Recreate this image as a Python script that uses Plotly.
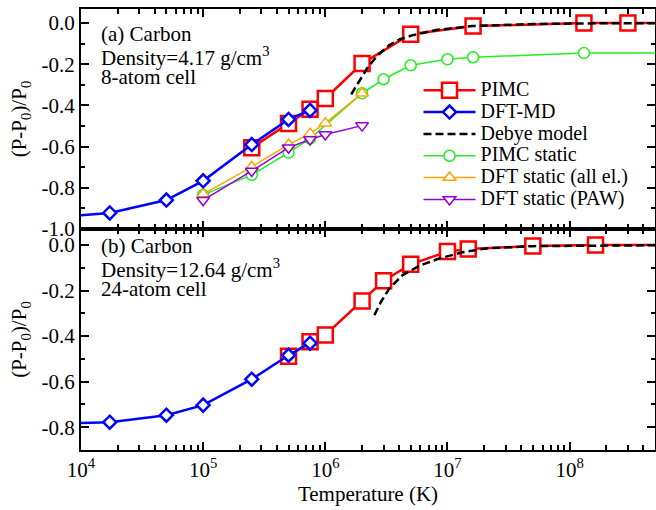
import math
import plotly.graph_objects as go
from plotly.subplots import make_subplots

# ---------------- data: panel (a) ----------------
pimc_T_a = [2.5e5, 5e5, 7.5e5, 1e6, 2e6, 5e6, 1.62e7, 1.31e8, 3.0e8, 1e9]
pimc_a = [-0.605, -0.488, -0.418, -0.366, -0.197, -0.054, -0.015, 0.0, 0.0, 0.0]

dftmd_T_a = [5e3, 1.72e4, 5e4, 1e5, 2.5e5, 5e5, 7.5e5]
dftmd_a = [-0.947, -0.922, -0.859, -0.766, -0.590, -0.468, -0.424]

debye_T_a = [1.63e6, 1.85e6, 2.22e6, 2.69e6, 3.35e6, 4.04e6, 5.19e6, 6.67e6, 8.05e6,
             1.6e7, 5e7, 1.3e8, 1e9]
debye_a = [-0.346, -0.294, -0.216, -0.156, -0.107, -0.080, -0.059, -0.045, -0.034,
           -0.015, -0.005, -0.002, 0.0]

pimcst_T_a = [1e5, 2.5e5, 5e5, 7.5e5, 2e6, 3e6, 5e6, 1e7, 1.62e7, 1.31e8, 1e9]
pimcst_a = [-0.834, -0.737, -0.629, -0.561, -0.341, -0.273, -0.205, -0.176, -0.166,
            -0.146, -0.146]

dftae_T_a = [1e5, 2.5e5, 5e5, 7.5e5, 1e6, 2e6]
dftae_a = [-0.830, -0.698, -0.590, -0.537, -0.486, -0.341]

dftpaw_T_a = [1e5, 2.5e5, 5e5, 7.5e5, 1e6, 2e6]
dftpaw_a = [-0.860, -0.718, -0.605, -0.565, -0.541, -0.498]

# ---------------- data: panel (b) ----------------
pimc_T_b = [5e5, 7.5e5, 1e6, 2e6, 3e6, 5e6, 1e7, 1.48e7, 5e7, 1.63e8, 1e9]
pimc_b = [-0.488, -0.425, -0.395, -0.246, -0.157, -0.085, -0.029, -0.018, -0.004, 0.0, 0.0]

dftmd_T_b = [5e3, 1.72e4, 5e4, 1e5, 2.5e5, 5e5, 7.5e5]
dftmd_b = [-0.787, -0.778, -0.747, -0.703, -0.589, -0.484, -0.431]

debye_T_b = [2.52e6, 2.86e6, 3.35e6, 4.3e6, 5.89e6, 8.58e6, 1.33e7, 2.07e7, 5e7, 1.63e8, 1e9]
debye_b = [-0.308, -0.249, -0.190, -0.132, -0.091, -0.059, -0.032, -0.015, -0.005, -0.001, 0.0]

# tick labels
x_major = [1e4, 1e5, 1e6, 1e7, 1e8]
x_labels = ["10<sup>4</sup>", "10<sup>5</sup>", "10<sup>6</sup>", "10<sup>7</sup>", "10<sup>8</sup>"]
ya_major = [0.0, -0.2, -0.4, -0.6, -0.8, -1.0]
ya_labels = ["0.0", "-0.2", "-0.4", "-0.6", "-0.8", "-1.0"]
yb_major = [0.0, -0.2, -0.4, -0.6, -0.8]
yb_labels = ["0.0", "-0.2", "-0.4", "-0.6", "-0.8"]

FONT = "Liberation Serif"
RED, BLUE, GREEN, ORANGE, PURPLE = "#ff0000", "#0000ff", "#22ee22", "#ffa500", "#9400d3"

fig = make_subplots(rows=2, cols=1, shared_xaxes=True, vertical_spacing=0.0,
                    row_heights=[0.499, 0.501])


def big(t):
    return '<span style="font-size:20px">' + t + '</span>'


def add(x, y, name, color, symbol, size, lw, mlw, row, show, rank, dash=None, mode="lines+markers"):
    fig.add_trace(go.Scatter(
        x=x, y=y, name=big(name), mode=mode, showlegend=show, legendrank=rank,
        line=dict(color=color, width=lw, dash=dash),
        marker=dict(symbol=symbol, size=size, color="white",
                    line=dict(color=color, width=mlw)) if mode != "lines" else None,
    ), row=row, col=1)


# panel (a)
add(pimcst_T_a, pimcst_a, "PIMC static", GREEN, "circle", 11, 1.5, 1.5, 1, True, 4)
add(dftae_T_a, dftae_a, "DFT static (all el.)", ORANGE, "triangle-up", 11, 1.5, 1.5, 1, True, 5)
add(dftpaw_T_a, dftpaw_a, "DFT static (PAW)", PURPLE, "triangle-down", 11, 1.5, 1.5, 1, True, 6)
add(pimc_T_a, pimc_a, "PIMC", RED, "square", 15, 2.5, 2.5, 1, True, 1)
add(dftmd_T_a, dftmd_a, "DFT-MD", BLUE, "diamond", 10, 2.5, 2.5, 1, True, 2)
add(debye_T_a, debye_a, "Debye model", "black", None, 0, 2.5, 0, 1, True, 3, dash="8px,4px", mode="lines")

# panel (b)
add(pimc_T_b, pimc_b, "PIMC", RED, "square", 15, 2.5, 2.5, 2, False, 1)
add(dftmd_T_b, dftmd_b, "DFT-MD", BLUE, "diamond", 10, 2.5, 2.5, 2, False, 2)
add(debye_T_b, debye_b, "Debye model", "black", None, 0, 2.5, 0, 2, False, 3, dash="8px,4px", mode="lines")

x_minor = [m * 10 ** e for e in range(4, 9) for m in range(2, 10)]

xcommon = dict(type="log", range=[4, math.log10(5e8)], showline=True, linecolor="black",
               linewidth=2, mirror="allticks", ticks="inside", ticklen=8, tickwidth=1.5,
               tickcolor="black", tickmode="array", tickvals=x_major, ticktext=x_labels,
               showgrid=False, zeroline=False, automargin=False,
               minor=dict(ticks="inside", ticklen=5, tickwidth=1.5, tickcolor="black",
                          tickmode="array", tickvals=x_minor, showgrid=False),
               tickfont=dict(family=FONT, size=21, color="black"))
fig.update_xaxes(**xcommon)
fig.update_xaxes(showticklabels=False, row=1, col=1)
fig.update_xaxes(title=dict(text="Temperature (K)", font=dict(family=FONT, size=21, color="black"),
                            standoff=2), row=2, col=1)

ycommon = dict(showline=True, linecolor="black", linewidth=2, mirror="allticks",
               ticks="inside", ticklen=8, tickwidth=1.5, tickcolor="black",
               showgrid=False, zeroline=False, tickmode="array", automargin=False,
               minor=dict(ticks="inside", ticklen=4, tickwidth=1.5, tickcolor="black",
                          dtick=0.1, showgrid=False),
               tickfont=dict(family=FONT, size=21, color="black"),
               title=dict(text="(P-P<sub>0</sub>)/P<sub>0</sub>",
                          font=dict(family=FONT, size=21, color="black"), standoff=9))
fig.update_yaxes(**ycommon)
fig.update_yaxes(range=[-1.0, 0.068], tickvals=ya_major, ticktext=ya_labels, row=1, col=1)
fig.update_yaxes(range=[-0.9, 0.070], tickvals=yb_major, ticktext=yb_labels, row=2, col=1)

# panel captions
caps = [("x domain", "y domain", ["(a) Carbon", "Density=4.17 g/cm<sup>3</sup>", "8-atom cell"], [0.888, 0.783, 0.692]),
        ("x2 domain", "y2 domain", ["(b) Carbon", "Density=12.64 g/cm<sup>3</sup>", "24-atom cell"], [0.922, 0.822, 0.727])]
for xr, yr, lines, ys in caps:
    for txt, yy in zip(lines, ys):
        fig.add_annotation(text=txt, xref=xr, yref=yr, x=0.031, y=yy, xanchor="left",
                           yanchor="middle", showarrow=False,
                           font=dict(family=FONT, size=21, color="black"))

fig.update_layout(
    width=656, height=510, margin=dict(l=81, r=1, t=9, b=60, autoexpand=False),
    paper_bgcolor="white", plot_bgcolor="white",
    font=dict(family=FONT, size=19, color="black"),
    legend=dict(x=0.588, y=0.852, xref="paper", yref="paper", xanchor="left", yanchor="top",
                bgcolor="rgba(0,0,0,0)", font=dict(family=FONT, size=14.5, color="black"),
                tracegroupgap=0, itemwidth=52),
)

fig.write_html("out.html", config={"displayModeBar": False},
               post_script="document.body.style.margin='0';")
